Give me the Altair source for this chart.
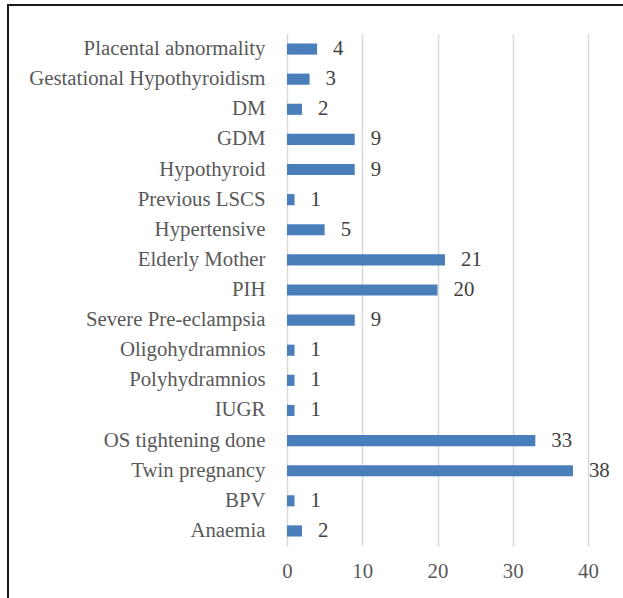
import altair as alt
import pandas as pd

# Risk factors, listed top to bottom as drawn
conditions = [
    "Placental abnormality", "Gestational Hypothyroidism", "DM", "GDM",
    "Hypothyroid", "Previous LSCS", "Hypertensive", "Elderly Mother", "PIH",
    "Severe Pre-eclampsia", "Oligohydramnios", "Polyhydramnios", "IUGR",
    "OS tightening done", "Twin pregnancy", "BPV", "Anaemia",
]
counts = [4, 3, 2, 9, 9, 1, 5, 21, 20, 9, 1, 1, 1, 33, 38, 1, 2]
x_ticks = [0, 10, 20, 30, 40]

df = pd.DataFrame({"condition": conditions, "count": counts})

FONT = "'Times New Roman', 'Liberation Serif', serif"
TXT = "#595959"
FS = 20.8

y_enc = alt.Y(
    "condition:N",
    sort=conditions,
    title=None,
    scale=alt.Scale(paddingInner=0.63, paddingOuter=0.315),
    axis=alt.Axis(domain=False, ticks=False, grid=False, labelPadding=22,
                  labelFont=FONT, labelFontSize=FS, labelColor=TXT,
                  labelLimit=400),
)
x_enc = alt.X(
    "count:Q",
    title=None,
    scale=alt.Scale(domain=[0, 40], nice=False),
    axis=alt.Axis(values=x_ticks, domain=False, ticks=False, grid=True,
                  gridColor="#d9d9d9", gridWidth=1.5, labelPadding=15,
                  labelFlush=False,
                  labelFont=FONT, labelFontSize=FS, labelColor=TXT),
)

bars = alt.Chart(df).mark_bar(color="#4a7ebb").encode(x=x_enc, y=y_enc)

labels = alt.Chart(df).mark_text(
    align="left", baseline="middle", dx=16, font=FONT, fontSize=FS,
    color="#404040",
).encode(x="count:Q", y=alt.Y("condition:N", sort=conditions), text="count:Q")

# Outer frame around the whole figure
frame = alt.Chart(pd.DataFrame({"k": [0]})).mark_rect(
    fill=None, stroke="#1a1a1a", strokeWidth=2, clip=False
).encode(
    x=alt.value(-279), x2=alt.value(360),
    y=alt.value(-29), y2=alt.value(590),
)

chart = (
    alt.layer(frame, bars, labels)
    .properties(
        width=301, height=512,
        padding={"left": 287, "top": 34, "right": 35, "bottom": 52},
        autosize=alt.AutoSizeParams(type="none"),
        background="white",
    )
    .configure_view(stroke=None)
)

chart.save("out.html", embed_options={"renderer": "svg", "actions": False})
